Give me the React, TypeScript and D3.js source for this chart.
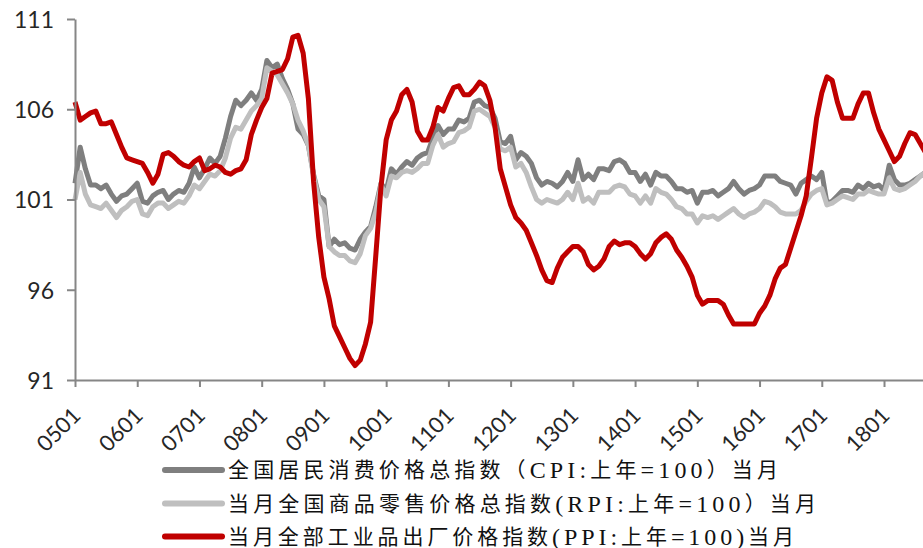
import { useEffect, useMemo, useRef } from "react";
import * as d3 from "d3";

const width = 923;
const height = 548;
const margin = { top: 19, left: 75, bottom: 168 };
const monthStep = 5.186;

// categories: monthly, 0501 .. 1809
const months = d3.range(165).map(
  (i) =>
    String(5 + Math.floor(i / 12)).padStart(2, "0") +
    String((i % 12) + 1).padStart(2, "0")
);
const xTickLabels = [
  "0501", "0601", "0701", "0801", "0901", "1001", "1101",
  "1201", "1301", "1401", "1501", "1601", "1701", "1801",
];
const yTicks = [91, 96, 101, 106, 111];

// 全国居民消费价格总指数 (上年=100)
const cpi = [
  101.9, 103.9, 102.7, 101.8, 101.8, 101.6, 101.8, 101.3, 100.9, 101.2, 101.3, 101.6,
  101.9, 100.9, 100.8, 101.2, 101.4, 101.5, 101.0, 101.3, 101.5, 101.4, 101.9, 102.8,
  102.2, 102.7, 103.3, 103.0, 103.4, 104.4, 105.6, 106.5, 106.2, 106.5, 106.9, 106.5,
  107.1, 108.7, 108.3, 108.5, 107.7, 107.1, 106.3, 104.9, 104.6, 104.0, 102.4, 101.2,
  101.0, 98.4, 98.8, 98.5, 98.6, 98.3, 98.2, 98.8, 99.2, 99.5, 100.6, 101.9,
  101.5, 102.7, 102.4, 102.8, 103.1, 102.9, 103.3, 103.5, 103.6, 104.4, 105.1, 104.6,
  104.9, 104.9, 105.4, 105.3, 105.5, 106.4, 106.5, 106.2, 106.1, 105.5, 104.2, 104.1,
  104.5, 103.2, 103.6, 103.4, 103.0, 102.2, 101.8, 102.0, 101.9, 101.7, 102.0, 102.5,
  102.0, 103.2, 102.1, 102.4, 102.1, 102.7, 102.7, 102.6, 103.1, 103.2, 103.0, 102.5,
  102.5, 102.0, 102.4, 101.8, 102.5, 102.3, 102.3, 102.0, 101.6, 101.6, 101.4, 101.5,
  100.8, 101.4, 101.4, 101.5, 101.2, 101.4, 101.6, 102.0, 101.6, 101.3, 101.5, 101.6,
  101.8, 102.3, 102.3, 102.3, 102.0, 101.9, 101.8, 101.3, 101.9, 102.1, 102.3, 102.1,
  102.5, 100.8, 100.9, 101.2, 101.5, 101.5, 101.4, 101.8, 101.6, 101.9, 101.7, 101.8,
  101.5, 102.9, 102.1, 101.8, 101.8, 101.9, 102.1, 102.3, 102.5,
];

// 全国商品零售价格总指数 (上年=100)
const rpi = [
  101.0, 102.5, 101.3, 100.7, 100.6, 100.5, 100.8, 100.4, 100.0, 100.4, 100.6, 100.9,
  101.0, 100.2, 100.1, 100.6, 100.8, 100.8, 100.5, 100.7, 100.9, 100.8, 101.2, 101.8,
  101.6, 102.0, 102.4, 102.3, 102.6, 103.3, 104.4, 105.0, 104.9, 105.4, 105.9, 106.2,
  106.6, 108.3, 108.1, 107.9, 107.4, 106.9, 106.3, 105.4, 104.8, 104.0, 102.3, 101.0,
  100.6, 98.4, 98.1, 97.9, 97.9, 97.6, 97.5, 98.0, 99.0, 99.4, 100.3, 101.8,
  101.2, 102.3, 102.2, 102.5, 102.6, 102.5, 102.7, 103.0, 103.0, 104.0, 104.6, 103.9,
  104.1, 104.2, 104.7, 104.8, 105.0, 105.9, 106.0, 105.8, 105.6, 105.0, 103.8, 103.7,
  103.9, 102.8, 103.0, 102.5, 101.7, 101.0, 100.8, 101.0, 100.9, 100.8, 101.0, 101.4,
  101.0, 101.9, 100.9, 101.1, 100.8, 101.4, 101.4, 101.4, 101.7, 101.8, 101.7, 101.3,
  101.2, 100.8, 101.2, 100.8, 101.6, 101.4, 101.3, 101.0, 100.6, 100.5, 100.2, 100.2,
  99.7, 100.1, 100.0, 100.1, 99.9, 100.1, 100.3, 100.5, 100.2, 100.0, 100.2, 100.3,
  100.5, 100.9, 100.8, 100.6, 100.3, 100.2, 100.2, 100.2, 100.4, 100.9, 101.3, 101.5,
  101.6, 100.7, 100.8, 101.0, 101.2, 101.1, 101.0, 101.3, 101.3, 101.5, 101.4, 101.3,
  101.3, 102.2, 101.6, 101.5, 101.6, 101.8, 102.0, 102.3, 102.5,
];

// 全部工业品出厂价格指数 (上年=100)
const ppi = [
  106.4, 105.4, 105.6, 105.8, 105.9, 105.2, 105.2, 105.3, 104.6, 103.9, 103.3, 103.2,
  103.1, 103.0, 102.5, 101.9, 102.4, 103.5, 103.6, 103.4, 103.1, 102.9, 102.8, 103.1,
  103.3, 102.6, 102.7, 102.9, 102.8, 102.5, 102.4, 102.6, 102.7, 103.2, 104.6, 105.4,
  106.1, 106.6, 108.0, 108.1, 108.2, 108.8, 110.0, 110.1, 109.1, 106.6, 102.0, 98.9,
  96.7, 95.5, 94.0, 93.4, 92.8, 92.2, 91.8, 92.1, 93.0, 94.2, 97.9, 101.7,
  104.3, 105.4, 105.9, 106.8, 107.1, 106.4, 104.8, 104.3, 104.3, 105.0, 106.1, 105.9,
  106.6, 107.2, 107.3, 106.8, 106.8, 107.1, 107.5, 107.3, 106.5, 105.0, 102.7, 101.7,
  100.7, 100.0, 99.7, 99.3, 98.6, 97.9, 97.1, 96.5, 96.4, 97.2, 97.8, 98.1,
  98.4, 98.4, 98.1, 97.4, 97.1, 97.3, 97.7, 98.4, 98.7, 98.5, 98.6, 98.6,
  98.4, 98.0, 97.7, 98.0, 98.6, 98.9, 99.1, 98.8, 98.2, 97.8, 97.3, 96.7,
  95.7, 95.2, 95.4, 95.4, 95.4, 95.2, 94.6, 94.1, 94.1, 94.1, 94.1, 94.1,
  94.7, 95.1, 95.7, 96.6, 97.2, 97.4, 98.3, 99.2, 100.1, 101.2, 103.3, 105.5,
  106.9, 107.8, 107.6, 106.4, 105.5, 105.5, 105.5, 106.3, 106.9, 106.9, 105.8, 104.9,
  104.3, 103.7, 103.1, 103.4, 104.1, 104.7, 104.6, 104.1, 103.6,
];

const seriesNames = [
  "全国居民消费价格总指数（CPI:上年=100）当月",
  "当月全国商品零售价格总指数(RPI:上年=100）当月",
  "当月全部工业品出厂价格指数(PPI:上年=100)当月",
];
const seriesColors = ["#7f7f7f", "#bfbfbf", "#c00000"];
const legendWidths = [550, 588, 566];

const axisColor = "#868686";
const cjkRun = /[\u3000-\u303f\u4e00-\u9fff\uff00-\uffef]+|[^\u3000-\u303f\u4e00-\u9fff\uff00-\uffef]+/g;
const isCjk = (s: string) => /[\u3000-\u303f\u4e00-\u9fff\uff00-\uffef]/.test(s);

const App = () => {
  const xAxisRef = useRef<SVGGElement>(null);
  const yAxisRef = useRef<SVGGElement>(null);

  const { xScale, yScale, paths } = useMemo(() => {
    const xScale = d3
      .scalePoint<string>()
      .domain(months)
      .range([margin.left, margin.left + (months.length - 1) * monthStep]);
    const yScale = d3
      .scaleLinear()
      .domain([91, 111])
      .range([height - margin.bottom, margin.top]);

    const line = d3
      .line<number>()
      .x((_, i) => xScale(months[i]) as number)
      .y((d) => yScale(d));

    const paths = [cpi, rpi, ppi].map((s, i) => ({
      d: line(s) ?? "",
      stroke: seriesColors[i],
    }));
    return { xScale, yScale, paths };
  }, []);

  useEffect(() => {
    if (yAxisRef.current) {
      const g = d3.select(yAxisRef.current);
      g.call(
        d3.axisLeft(yScale).tickValues(yTicks).tickSize(8).tickSizeOuter(0).tickPadding(13)
      );
      g.attr("font-family", "Lato").attr("font-size", 23);
      g.select(".domain").attr("stroke", axisColor).attr("stroke-width", 2);
      g.selectAll(".tick line").attr("stroke", axisColor).attr("stroke-width", 2);
      g.selectAll(".tick text").attr("fill", "#262626").attr("dy", "0.36em");
    }
    if (xAxisRef.current) {
      const g = d3.select(xAxisRef.current);
      g.call(
        d3
          .axisBottom(xScale)
          .tickValues(xTickLabels)
          .tickSize(7)
          .tickSizeOuter(0)
          .tickFormat(() => "")
      );
      g.select(".domain").attr("stroke", axisColor).attr("stroke-width", 2);
      g.selectAll(".tick line").attr("stroke", axisColor).attr("stroke-width", 2);
    }
  }, [xScale, yScale]);

  const axisY = height - margin.bottom;
  const legendX = 165;
  const legendY = [470, 503.5, 536.5];

  return (
    <svg
      width={width}
      height={height}
      style={{ position: "fixed", left: 0, top: 0, background: "#fff" }}
    >
      {paths.map((p, i) => (
        <path
          key={i}
          d={p.d}
          fill="none"
          stroke={p.stroke}
          strokeWidth={5}
          strokeLinejoin="round"
        />
      ))}
      <g ref={yAxisRef} transform={`translate(${margin.left},0)`} />
      <g ref={xAxisRef} transform={`translate(0,${axisY})`} />

      {/* rotated month labels */}
      {xTickLabels.map((t) => (
        <text
          key={t}
          transform={`translate(${(xScale(t) as number) + 7},${axisY + 37}) rotate(-45)`}
          textAnchor="end"
          fontFamily="Lato"
          fontSize={22}
          fill="#262626"
        >
          {t}
        </text>
      ))}

      {seriesNames.map((name, i) => (
        <g key={name}>
          <line
            x1={legendX}
            x2={legendX + 57}
            y1={legendY[i]}
            y2={legendY[i]}
            stroke={seriesColors[i]}
            strokeWidth={6}
            strokeLinecap="round"
          />
          <text
            x={legendX + 63}
            y={legendY[i]}
            dominantBaseline="central"
            fontFamily={"'Liberation Serif', 'Noto Sans CJK SC'"}
            fill="#111"
            textLength={legendWidths[i]}
            lengthAdjust="spacing"
          >
            {(name.match(cjkRun) ?? []).map((run, j) => (
              <tspan key={j} fontSize={isCjk(run) ? 21 : 24}>
                {run}
              </tspan>
            ))}
          </text>
        </g>
      ))}
    </svg>
  );
};

export default App;
